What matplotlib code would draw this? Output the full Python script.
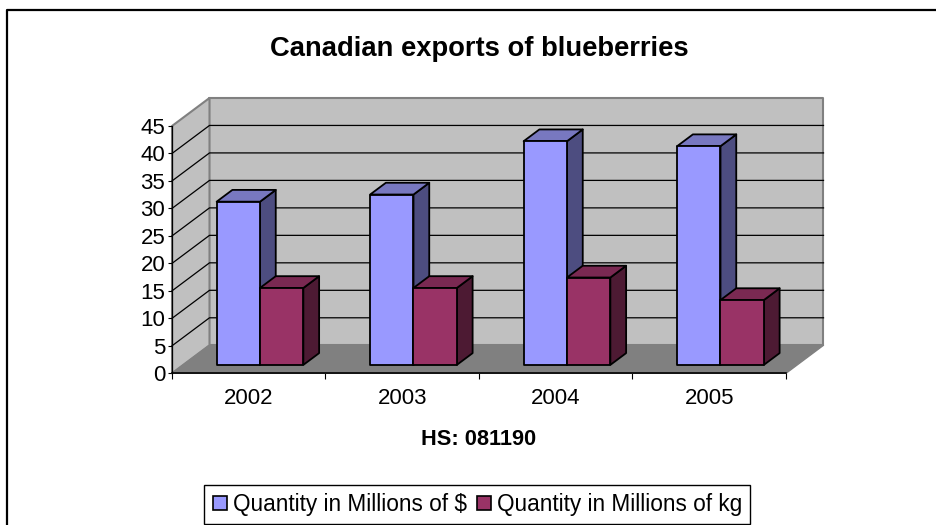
import matplotlib
matplotlib.use("Agg")
import matplotlib.pyplot as plt
from matplotlib.patches import Patch, Polygon

plt.rcParams["font.family"] = ["Liberation Sans", "DejaVu Sans"]

years = ["2002", "2003", "2004", "2005"]
dollars = [29.7, 31.0, 40.7, 39.8]
kg = [14.0, 14.0, 15.9, 11.8]
y_ticks = [0, 5, 10, 15, 20, 25, 30, 35, 40, 45]
series_names = ["Quantity in Millions of $", "Quantity in Millions of kg"]

W, H = 937, 525

# oblique depth of the box, in data units
DX = 37.5 / (614 / 4)
DY = 28 / (247 / 45)
bar_w = 0.2825
d0, d1 = 0.3, 0.72


def proj(x, v, d):
    return (x + d * DX, v + d * DY)


def quad(ax, pts, color, edge, lw, z):
    ax.add_patch(Polygon([proj(*p) for p in pts], closed=True, facecolor=color,
                         edgecolor=edge, linewidth=lw, zorder=z, clip_on=False,
                         joinstyle="round"))


def bar3d(ax, x0, v, colors, z):
    x1 = x0 + bar_w
    front, side, top = colors
    quad(ax, [(x1, 0, d0), (x1, 0, d1), (x1, v, d1), (x1, v, d0)], side, "black", 1.3, z)
    quad(ax, [(x0, v, d0), (x1, v, d0), (x1, v, d1), (x0, v, d1)], top, "black", 1.3, z)
    quad(ax, [(x0, 0, d0), (x1, 0, d0), (x1, v, d0), (x0, v, d0)], front, "black", 1.3, z)


fig = plt.figure(figsize=(W / 100, H / 100), dpi=100, facecolor="white")
ax = fig.add_axes([172 / W, 1 - 373.3 / H, 614 / W, 247.3 / H])
ax.set_xlim(0, 4)
ax.set_ylim(0, 45)
ax.patch.set_visible(False)

# walls and floor
quad(ax, [(0, 0, 1), (4, 0, 1), (4, 45, 1), (0, 45, 1)], "#C0C0C0", "#808080", 1.5, 1)
quad(ax, [(0, 0, 0), (0, 0, 1), (0, 45, 1), (0, 45, 0)], "#C0C0C0", "#808080", 1.5, 1)
quad(ax, [(0, 0, 0), (4, 0, 0), (4, 0, 1), (0, 0, 1)], "#808080", "#808080", 1.0, 2)

# gridlines on both walls
for t in y_ticks[1:-1]:
    xs, ys = zip(proj(0, t, 0), proj(0, t, 1), proj(4, t, 1))
    ax.plot(xs, ys, color="black", lw=0.9, zorder=3, clip_on=False)

blue = ("#9999FF", "#4D4D80", "#7878C0")
red = ("#993366", "#4D1A33", "#7A2952")
for i in range(len(years)):
    c = i + 0.5
    bar3d(ax, c - bar_w, dollars[i], blue, 10 + 2 * i)
    bar3d(ax, c, kg[i], red, 11 + 2 * i)

ax.set_xticks(range(len(years) + 1))
ax.set_xticklabels([""] * (len(years) + 1))
ax.set_xticks([i + 0.5 for i in range(len(years))], labels=years, minor=True)
ax.tick_params(axis="x", which="major", length=4.3, width=0.8, color="black")
ax.tick_params(axis="x", which="minor", length=0, labelsize=16, pad=10.5)
ax.set_yticks(y_ticks)
ax.tick_params(axis="y", length=2.9, width=0.8, labelsize=16, pad=2)
for s in ["top", "right"]:
    ax.spines[s].set_visible(False)
ax.spines["bottom"].set_zorder(5)
ax.spines["bottom"].set_linewidth(1.2)
ax.spines["left"].set_linewidth(0.9)

fig.text(479 / W, 1 - 56 / H, "Canadian exports of blueberries", ha="center",
         va="baseline", fontsize=19.7, fontweight="bold")
fig.text(479 / W, 1 - 445 / H, "HS: 081190", ha="center", va="baseline",
         fontsize=15.7, fontweight="bold")

# chart area border (left and top only, as cropped in the source)
fig.add_artist(plt.Line2D([7.5 / W, 7.5 / W, 1], [0, 1 - 10 / H, 1 - 10 / H],
                          color="black", lw=1.6))

handles = [Patch(facecolor=blue[0], edgecolor="black", linewidth=1.2),
           Patch(facecolor=red[0], edgecolor="black", linewidth=1.2)]
leg = fig.legend(handles, series_names, ncol=2, loc="lower left",
                 bbox_to_anchor=(204.5 / W, 1 - 524 / H), borderaxespad=0,
                 frameon=True, fancybox=False, edgecolor="black", framealpha=1,
                 fontsize=16.3, handlelength=0.62, handleheight=0.62, handletextpad=0.27,
                 columnspacing=0.44, borderpad=0.36)
leg.get_frame().set_linewidth(1.0)

fig.savefig("out.png", dpi=100)
